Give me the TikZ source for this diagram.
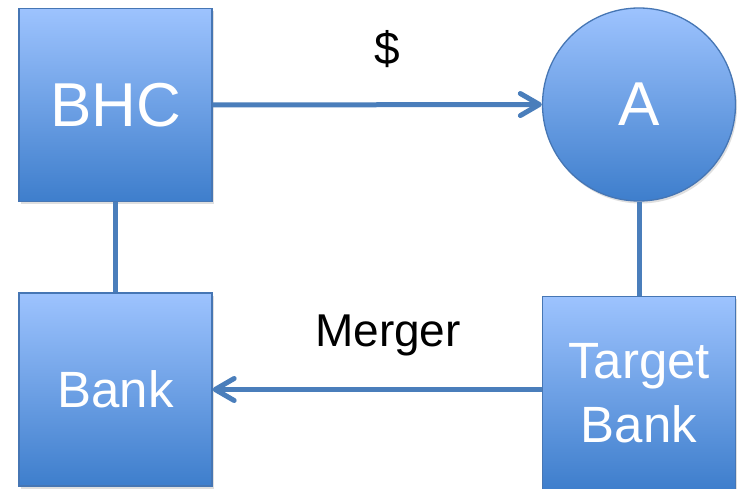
\documentclass[tikz,border=0pt]{standalone}
\usepackage{fontspec}
\setmainfont{Liberation Sans}
\usetikzlibrary{arrows.meta,shadows,shapes.geometric}
\definecolor{topblue}{RGB}{157,195,254}
\definecolor{botblue}{RGB}{62,126,204}
\definecolor{edgeblue}{RGB}{70,118,180}
\definecolor{connblue}{RGB}{74,126,187}
\tikzset{
  shapebox/.style={draw=edgeblue, line width=1.3pt, top color=topblue, bottom color=botblue,
    text=white, align=center, inner sep=0pt,
    drop shadow={opacity=0.25, shadow xshift=1.5pt, shadow yshift=-2.5pt}},
  sqbox/.style={shapebox, rectangle, minimum width=193pt, minimum height=193pt},
  circbox/.style={shapebox, circle, minimum size=193pt},
  conn/.style={draw=connblue, line width=5pt},
  tip/.style={-{Straight Barb[length=19pt, width=22pt, line width=5pt, line cap=round, line join=round]}},
  lbl/.style={text=black, inner sep=0pt, font=\fontsize{46}{55}\selectfont}
}
\begin{document}
\begin{tikzpicture}[x=1pt,y=-1pt]
\useasboundingbox (0,0) rectangle (738,489);
\fill[white] (0,0) rectangle (738,489);
\node[sqbox, font=\fontsize{62}{74}\selectfont] (BHC) at (115.5,105) {BHC};
\node[circbox, font=\fontsize{62}{74}\selectfont] (A) at (639,104.5) {A};
\node[sqbox, font=\fontsize{51}{64}\selectfont] (Bank) at (115.5,389.5) {Bank};
\node[sqbox, font=\fontsize{51}{64}\selectfont] (Target) at (639,393) {Target\\Bank};
\draw[conn] (BHC.south) -- (Bank.north);
\draw[conn] (A.south) -- (Target.north);
\draw[conn,tip] (BHC.east) -- (A.west);
\draw[conn,tip] (Bank.east -| Target.west) -- (Bank.east);
\node[lbl] (dollar) at (387,49) {\$};
\node[lbl] (merger) at (388,335) {Merger};
\end{tikzpicture}
\end{document}
